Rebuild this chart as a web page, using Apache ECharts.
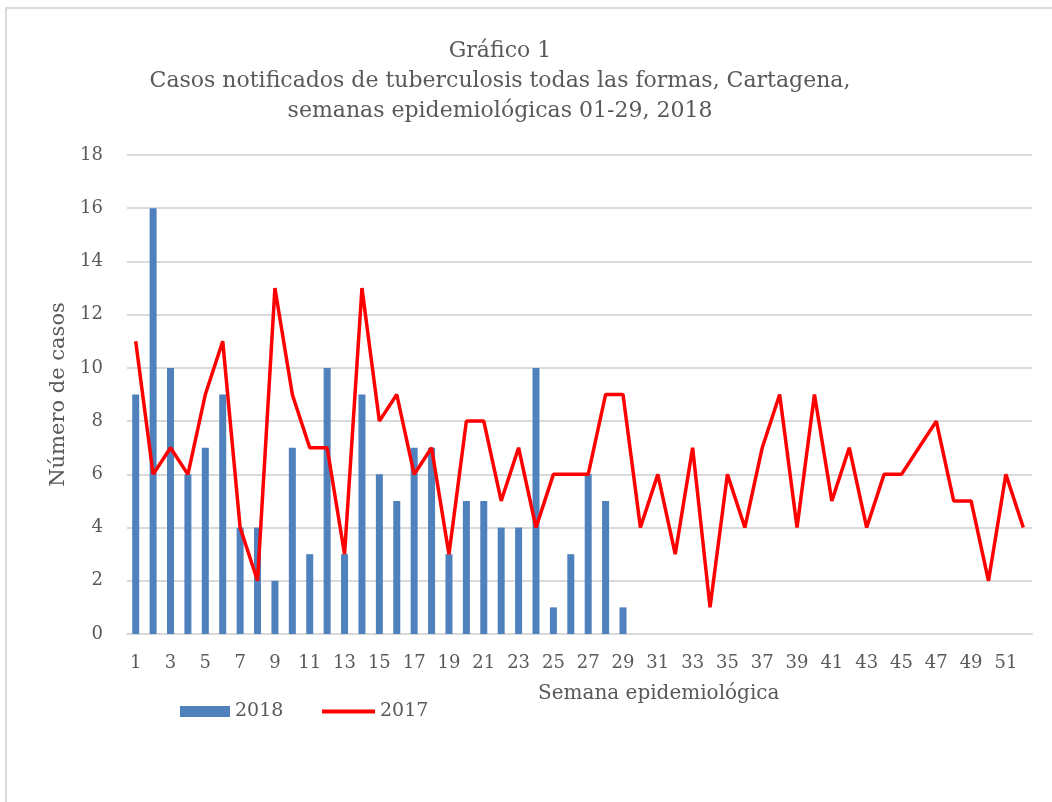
<!DOCTYPE html>
<html><head><meta charset="utf-8">
<script src="https://cdn.jsdelivr.net/npm/echarts@6/dist/echarts.min.js"></script>
<style>
html,body{margin:0;padding:0;background:#fff;}
#frame{position:absolute;left:5px;top:7px;width:1060px;height:820px;border:2px solid #d9d9d9;box-sizing:border-box;}
#c{position:absolute;left:0;top:0;width:1052px;height:802px;}
</style>
</head><body>
<div id="frame"></div>
<div id="c"></div>
<script>
const weeks = Array.from({length:52},(_,i)=>String(i+1));
const cases2018 = [9,16,10,6,7,9,4,4,2,7,3,10,3,9,6,5,7,7,3,5,5,4,4,10,1,3,6,5,1];
const cases2017 = [11,6,7,6,9,11,4,2,13,9,7,7,3,13,8,9,6,7,3,8,8,5,7,4,6,6,6,9,9,4,6,3,7,1,6,4,7,9,4,9,5,7,4,6,6,7,8,5,5,2,6,4];
const titleLines = ['Gráfico 1','Casos notificados de tuberculosis todas las formas, Cartagena,','semanas epidemiológicas 01-29, 2018'];
const xAxisTitle = 'Semana epidemiológica';
const yAxisTitle = 'Número de casos';

const FONT = '"DejaVu Serif", "Liberation Serif", serif';
const TXT = '#595959';
const chart = echarts.init(document.getElementById('c'), null, {renderer:'canvas'});
chart.setOption({
  backgroundColor:'transparent',
  animation:false,
  title:{text:titleLines.join('\n'), top:31, textAlign:'center', left:495,
    textStyle:{fontFamily:FONT, fontSize:22, fontWeight:'normal', color:TXT, lineHeight:30}},
  grid:{left:127, right:20, top:155, bottom:168},
  legend:[
    {left:180, top:702, padding:0, itemWidth:50, itemHeight:11, itemGap:5,
     textStyle:{fontFamily:FONT, fontSize:19, color:TXT},
     data:[{name:'2018', icon:'rect'}]},
    {left:322, top:702, padding:0, itemWidth:53, itemHeight:4, itemGap:5,
     textStyle:{fontFamily:FONT, fontSize:19, color:TXT},
     data:[{name:'2017', icon:'rect'}]}
  ],
  graphic:[{type:'text', left:538, top:684, style:{text:xAxisTitle, font:'20px '+FONT, fill:TXT}}],
  xAxis:{type:'category', data:weeks, boundaryGap:true,
    axisLine:{show:true, lineStyle:{color:'#d9d9d9', width:2}},
    axisTick:{show:false},
    axisLabel:{interval:1, fontFamily:FONT, fontSize:18, color:TXT, margin:20}},
  yAxis:{type:'value', min:0, max:18, interval:2,
    name:yAxisTitle, nameLocation:'middle', nameGap:56,
    nameTextStyle:{fontFamily:FONT, fontSize:21, color:TXT},
    axisLine:{show:false}, axisTick:{show:false},
    axisLabel:{fontFamily:FONT, fontSize:18, color:TXT, margin:24},
    splitLine:{lineStyle:{color:'#d9d9d9', width:2}}},
  series:[
    {name:'2018', type:'bar', data:cases2018, barWidth:7, itemStyle:{color:'#4f81bd'}},
    {name:'2017', type:'line', data:cases2017, symbol:'none', lineStyle:{color:'#ff0000', width:3.5}, itemStyle:{color:'#ff0000'}}
  ]
});
</script>
</body></html>
